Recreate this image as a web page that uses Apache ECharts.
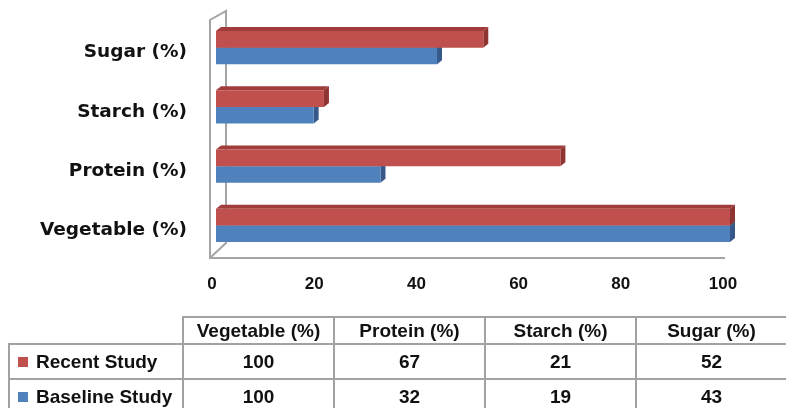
<!DOCTYPE html>
<html>
<head>
<meta charset="utf-8">
<script src="https://cdn.jsdelivr.net/npm/echarts@6/dist/echarts.min.js"></script>
<style>
  html, body { margin: 0; padding: 0; background: #fff; }
  #wrap { position: relative; width: 786px; height: 408px; overflow: hidden; }
  #main { position: absolute; left: 0; top: 0; width: 786px; height: 408px; }
  #dataTable {
    position: absolute; left: 8px; top: 316px; width: 792px;
    border-collapse: collapse; table-layout: fixed;
    font-family: "Liberation Sans", Arial, sans-serif; font-weight: bold;
    font-size: 19px; color: #111;
  }
  #dataTable td { border: 2px solid #a2a2a2; text-align: center; padding: 0; white-space: nowrap; }
  #dataTable tr.head td { height: 25px; }
  #dataTable tr.row td { height: 33px; }
  #dataTable td.blank { border: none; }
  #dataTable td.name { text-align: left; padding-left: 8px; }
  #dataTable td.last { padding-right: 14px; }
  .key { display: inline-block; width: 10px; height: 10px; margin-right: 8px; vertical-align: 1px; }
</style>
</head>
<body>
<div id="wrap">
  <div id="main"></div>
  <table id="dataTable"></table>
</div>
<script>
// chart data
var categories = ["Vegetable (%)", "Protein (%)", "Starch (%)", "Sugar (%)"];
var recentStudy = [100, 67, 21, 52];
var baselineStudy = [100, 32, 19, 43];
var xTicks = [0, 20, 40, 60, 80, 100];

var seriesNames = ["Recent Study", "Baseline Study"];
var colors = ["#c0504d", "#4f81bd"];
var darkColors = ["#8e3431", "#36598a"];
var topColors = ["#a03c39", "#41699d"];

// 3d looking bar, red sits above the category centre, blue below
function makeRender(idx) {
  return function (params, api) {
    var cat = api.value(1);
    var v = api.value(0);
    var p0 = api.coord([0, cat]);
    var p1 = api.coord([v, cat]);
    var band = api.size([0, 1])[1];
    var h = band * 0.28;
    var dx = 5, dy = 4;
    var y0 = idx === 0 ? p0[1] - h : p0[1];
    var y1 = y0 + h;
    var x0 = p0[0], x1 = p1[0];
    return {
      type: "group",
      children: [
        { type: "polygon", shape: { points: [[x0, y0], [x0 + dx, y0 - dy], [x1 + dx, y0 - dy], [x1, y0]] },
          style: { fill: topColors[idx] } },
        { type: "polygon", shape: { points: [[x1, y0], [x1 + dx, y0 - dy], [x1 + dx, y1 - dy], [x1, y1]] },
          style: { fill: darkColors[idx] } },
        { type: "rect", shape: { x: x0, y: y0, width: x1 - x0, height: h },
          style: { fill: colors[idx] } }
      ]
    };
  };
}

function toData(arr) {
  var out = [];
  for (var i = 0; i < arr.length; i++) out.push([arr[i], i]);
  return out;
}

var chart = echarts.init(document.getElementById("main"));
var labelFont = "DejaVu Sans";
var option = {
  animation: false,
  grid: [
    // axis labels grid
    { left: 212, right: 63, top: 23, height: 237 },
    // bars grid
    { left: 216, right: 56, top: 18, height: 237 }
  ],
  xAxis: [
    { gridIndex: 0, type: "value", min: 0, max: 100, interval: 20,
      axisLine: { show: false }, axisTick: { show: false }, splitLine: { show: false },
      axisLabel: { margin: 16, color: "#111", fontFamily: "Liberation Sans", fontWeight: "bold", fontSize: 17,
        formatter: function (v) { return xTicks.indexOf(v) >= 0 ? String(v) : ""; } } },
    { gridIndex: 1, type: "value", min: 0, max: 100, show: false }
  ],
  yAxis: [
    { gridIndex: 0, type: "category", data: categories,
      axisLine: { show: false }, axisTick: { show: false },
      axisLabel: { margin: 25, color: "#111", fontFamily: labelFont, fontWeight: "bold", fontSize: 18.5 } },
    { gridIndex: 1, type: "category", data: categories, show: false }
  ],
  graphic: [
    { type: "polyline", silent: true,
      shape: { points: [[725, 258], [210, 258], [210, 20], [226, 11], [226, 243], [211, 257]] },
      style: { stroke: "#a4a4a4", lineWidth: 2, fill: null } }
  ],
  series: [
    { name: seriesNames[1], type: "custom", xAxisIndex: 1, yAxisIndex: 1,
      renderItem: makeRender(1), data: toData(baselineStudy) },
    { name: seriesNames[0], type: "custom", xAxisIndex: 1, yAxisIndex: 1,
      renderItem: makeRender(0), data: toData(recentStudy) }
  ]
};
chart.setOption(option);

// data table under the chart; last column runs past the right edge like the source
var table = document.getElementById("dataTable");
var last = categories.length - 1;
var html = '<colgroup><col style="width:174px">';
for (var c = 0; c < categories.length; c++) html += '<col style="width:' + (c === last ? 165 : 151) + 'px">';
html += '</colgroup><tr class="head"><td class="blank"></td>';
for (var c = 0; c < categories.length; c++) html += '<td' + (c === last ? ' class="last"' : '') + '>' + categories[c] + "</td>";
html += "</tr>";
var rows = [recentStudy, baselineStudy];
for (var r = 0; r < rows.length; r++) {
  html += '<tr class="row"><td class="name"><span class="key" style="background:' + colors[r] + '"></span>' + seriesNames[r] + "</td>";
  for (var c = 0; c < categories.length; c++) html += '<td' + (c === last ? ' class="last"' : '') + '>' + rows[r][c] + "</td>";
  html += "</tr>";
}
table.innerHTML = html;
</script>
</body>
</html>
